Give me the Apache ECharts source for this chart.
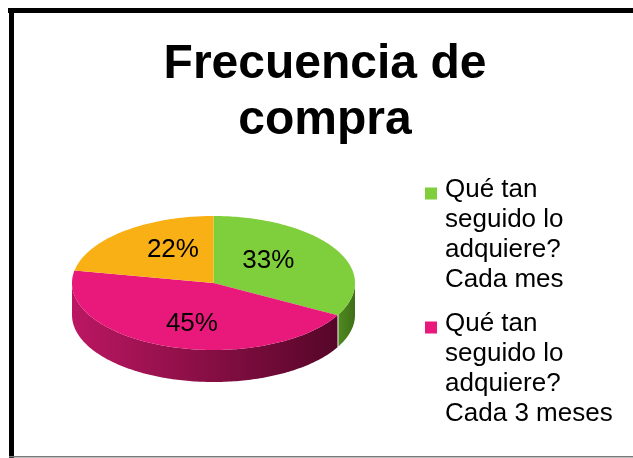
<!DOCTYPE html>
<html>
<head>
<meta charset="utf-8">
<script src="https://cdn.jsdelivr.net/npm/echarts@6/dist/echarts.min.js"></script>
<style>
  html, body { margin: 0; padding: 0; background: #fff; }
  #main { width: 633px; height: 458px; }
</style>
</head>
<body>
<div id="main"></div>
<script>
  // datos
  var categories = [
    'Qué tan\nseguido lo\nadquiere?\nCada mes',
    'Qué tan\nseguido lo\nadquiere?\nCada 3 meses',
    'Qué tan\nseguido lo\nadquiere?\nOtro'
  ]
  var values = [33, 45, 22]
  var legendNames = [categories[0], categories[1]]

  var topColors = ['#7fce3b', '#e8197a', '#f8b014']
  var sideColors = [
    ['#4f8a1f', '#3f6e18'],
    ['#bb1762', '#560628'],
    ['#c98a0c', '#8a5e05']
  ]

  // elipse del pastel 3D
  var cx = 213.5, cy = 283, rx = 141.5, ry = 67, depth = 32

  var total = values.reduce(function (a, b) { return a + b }, 0)
  var starts = []
  var acc = 0
  values.forEach(function (v) { starts.push(acc / total * 360); acc += v })

  function pt(deg, dy) {
    var r = deg * Math.PI / 180
    return [cx + rx * Math.sin(r), cy - ry * Math.cos(r) + (dy || 0)]
  }

  function renderItem(params, api) {
    var i = params.dataIndex
    var a0 = starts[i]
    var a1 = a0 + api.value(0) / total * 360
    var children = []

    // pared lateral (solo la parte frontal 90..270)
    var s0 = Math.max(a0, 90), s1 = Math.min(a1, 270)
    if (s1 > s0) {
      var topArc = [], botArc = []
      for (var t = s0; t <= s1 + 0.001; t += 1) {
        var tt = Math.min(t, s1)
        topArc.push(pt(tt))
        botArc.push(pt(tt, depth))
      }
      children.push({
        type: 'polygon',
        z2: 1,
        shape: { points: topArc.concat(botArc.reverse()) },
        style: {
          fill: new echarts.graphic.LinearGradient(0, 0, 1, 0, [
            { offset: 0, color: sideColors[i][0] },
            { offset: 1, color: sideColors[i][1] }
          ]),
          stroke: null
        }
      })
    }

    // cara superior
    var face = [[cx, cy]]
    for (var t2 = a0; t2 <= a1 + 0.001; t2 += 1) face.push(pt(Math.min(t2, a1)))
    face.push(pt(a1))
    children.push({
      type: 'polygon',
      z2: 2,
      shape: { points: face },
      style: { fill: topColors[i], stroke: null }
    })

    // etiqueta de porcentaje
    var mid = (a0 + a1) / 2 * Math.PI / 180
    var lx = cx + rx * 0.45 * Math.sin(mid)
    var ly = cy - ry * 0.65 * Math.cos(mid)
    children.push({
      type: 'text',
      z2: 3,
      x: lx,
      y: ly,
      style: {
        text: Math.round(api.value(0) / total * 100) + '%',
        fill: '#000',
        font: '26px "Liberation Sans", Arial, sans-serif',
        align: 'center',
        verticalAlign: 'middle'
      }
    })

    return { type: 'group', children: children }
  }

  var chart = echarts.init(document.getElementById('main'))
  var option = {
    backgroundColor: '#fff',
    animation: false,
    title: {
      text: 'Frecuencia de\ncompra',
      left: 320,
      top: 32,
      textAlign: 'center',
      textStyle: {
        fontFamily: '"Liberation Sans", Arial, sans-serif',
        fontSize: 48,
        fontWeight: 'bold',
        lineHeight: 56,
        color: '#000'
      }
    },
    legend: {
      orient: 'vertical',
      left: 420,
      top: 170,
      itemGap: 14,
      itemWidth: 15,
      itemHeight: 120,
      data: legendNames,
      icon: 'path://M0,0L15,0L15,0Z M0,12.5L12,12.5L12,24.5L0,24.5Z M0,120L15,120L15,120Z',
      itemStyle: { borderWidth: 0 },
      selectedMode: false,
      textStyle: {
        fontFamily: '"Liberation Sans", Arial, sans-serif',
        fontSize: 26,
        lineHeight: 30,
        color: '#000'
      }
    },
    graphic: [
      { type: 'rect', shape: { x: 8, y: 8, width: 700, height: 5 }, style: { fill: '#000' } },
      { type: 'rect', shape: { x: 9, y: 8, width: 5, height: 460 }, style: { fill: '#000' } },
      { type: 'rect', shape: { x: 9, y: 456, width: 700, height: 1.5 }, style: { fill: '#7a7a7a' } }
    ],
    series: [
      {
        // serie oculta solo para la leyenda
        type: 'pie',
        radius: [0, 0],
        silent: true,
        label: { show: false },
        labelLine: { show: false },
        data: categories.map(function (c, i) {
          return { name: c, value: values[i], itemStyle: { color: topColors[i] } }
        })
      },
      {
        type: 'custom',
        coordinateSystem: 'none',
        renderItem: renderItem,
        silent: true,
        data: values.map(function (v) { return [v] })
      }
    ]
  }
  chart.setOption(option)
</script>
</body>
</html>
